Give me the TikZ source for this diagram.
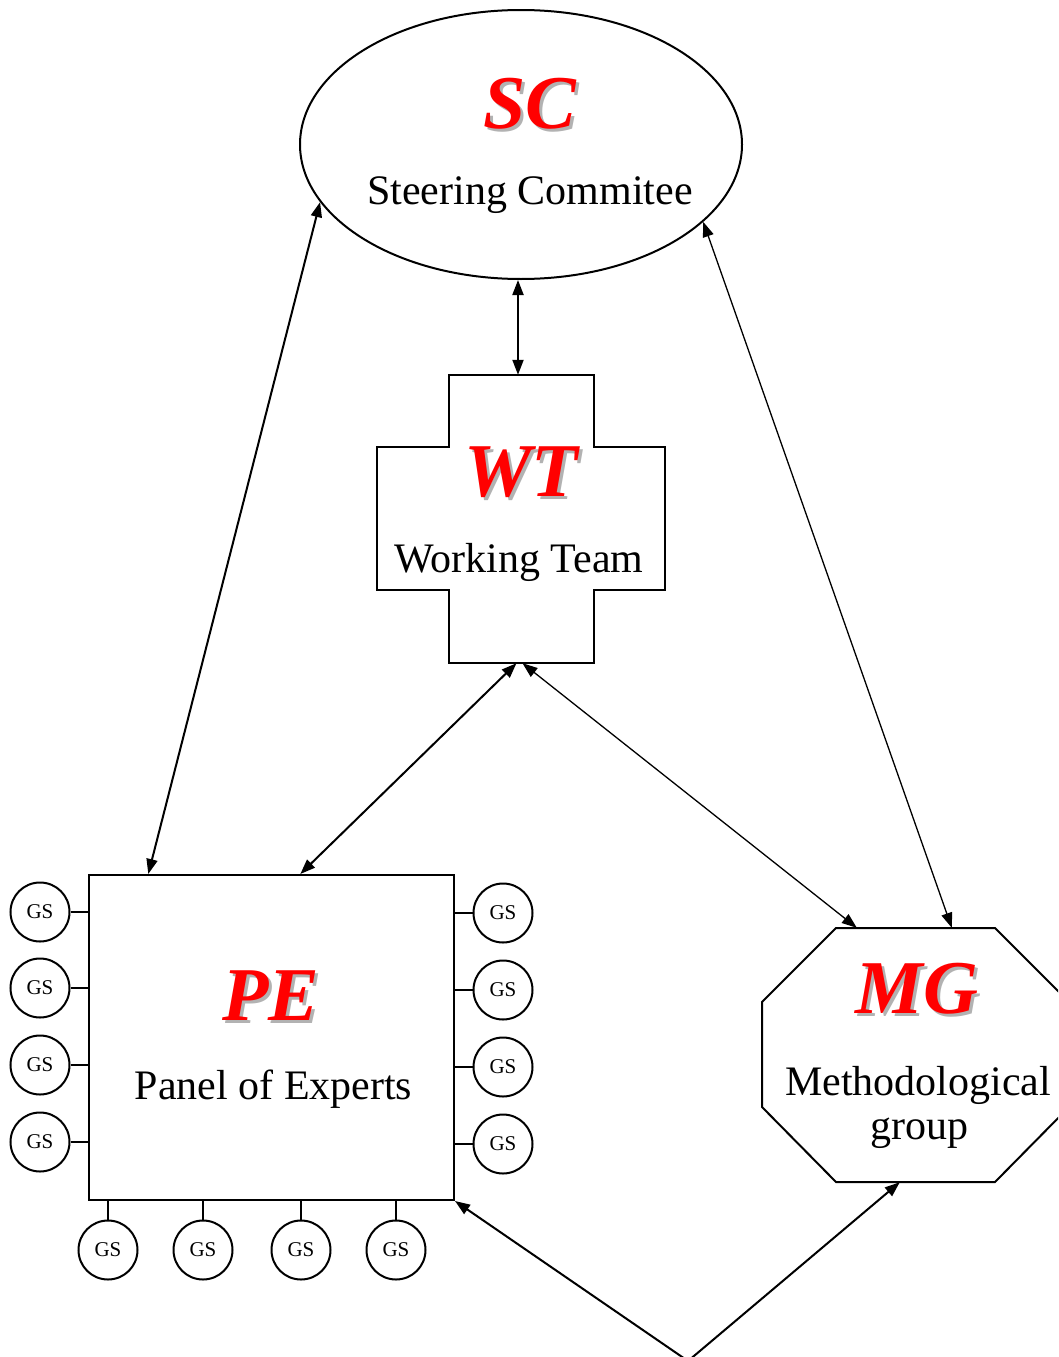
\documentclass[tikz,border=0pt]{standalone}
\usepackage{fontspec}
\setmainfont{Liberation Serif}
\usetikzlibrary{shapes.geometric,arrows.meta,calc}
\newcommand\shadowed[1]{\makebox[0pt][l]{\hspace*{3pt}\raisebox{-3pt}{\textcolor{black!30}{#1}}}\textcolor{red}{#1}}
\begin{document}
\begin{tikzpicture}[x=1pt,y=-1pt,
  bord/.style={draw,line width=2pt},
  tip/.tip={Triangle[length=15pt,width=11pt]},
  conn/.style={line width=2pt,tip-tip},
  thinconn/.style={line width=1.3pt,tip-tip},
  oneway/.style={line width=2pt,-tip},
  acr/.style={font=\fontsize{76}{80}\selectfont\bfseries\itshape,anchor=base,inner sep=0pt},
  lbl/.style={font=\fontsize{42}{48}\selectfont,anchor=base,inner sep=0pt},
  gs/.style={circle,draw,line width=2pt,minimum size=59pt,inner sep=0pt,font=\fontsize{21}{24}\selectfont},
]
\clip (0,0) rectangle (1058,1357);
\fill[white] (0,0) rectangle (1058,1357);

% Steering Committee
\node[ellipse,bord,minimum width=442pt,minimum height=269pt,inner sep=0pt] (sc) at (521,144.5) {};
\node[acr] (scacr) at (530,128) {\shadowed{SC}};
\node[lbl] (scname) at (530,204) {Steering Commitee};

% Working Team (cross)
\node[minimum width=145pt,minimum height=288pt,inner sep=0pt] (wt) at (521.5,519) {};
\draw[bord] (449,375) -- (594,375) -- (594,447) -- (665,447) -- (665,590) -- (594,590)
  -- (594,663) -- (449,663) -- (449,590) -- (377,590) -- (377,447) -- (449,447) -- cycle;
\node[acr] (wtacr) at (521,496) {\shadowed{WT}};
\node[lbl] (wtname) at (519,572) {Working Team};

% Panel of Experts
\node[bord,minimum width=365pt,minimum height=325pt,inner sep=0pt] (pe) at (271.5,1037.5) {};
\node[acr] (peacr) at (271,1020) {\shadowed{PE}};
\node[lbl] (pename) at (273.5,1099) {Panel of Experts};

% Methodological group (octagon)
\node[minimum width=307pt,minimum height=254pt,inner sep=0pt] (mg) at (915.5,1055) {};
\draw[bord] (836,928) -- (995,928) -- (1069,1002) -- (1069,1107) -- (995,1182)
  -- (836,1182) -- (762,1107) -- (762,1002) -- cycle;
\node[acr] (mgacr) at (917,1013) {\shadowed{MG}};
\node[lbl] (mgname1) at (918,1095) {Methodological};
\node[lbl] (mgname2) at (919,1139) {group};

% GS circles, left
\node[gs] (gl1) at (40,912) {GS};
\node[gs] (gl2) at (40,988) {GS};
\node[gs] (gl3) at (40,1065) {GS};
\node[gs] (gl4) at (40,1142) {GS};
% right
\node[gs] (gr1) at (503,913) {GS};
\node[gs] (gr2) at (503,990) {GS};
\node[gs] (gr3) at (503,1067) {GS};
\node[gs] (gr4) at (503,1144) {GS};
% bottom
\node[gs] (gb1) at (108,1250) {GS};
\node[gs] (gb2) at (203,1250) {GS};
\node[gs] (gb3) at (301,1250) {GS};
\node[gs] (gb4) at (396,1250) {GS};

\foreach \n in {gl1,gl2,gl3,gl4}{\draw[line width=2pt] (\n.east) -- (pe.west |- \n.east);}
\foreach \n in {gr1,gr2,gr3,gr4}{\draw[line width=2pt] (\n.west) -- (pe.east |- \n.west);}
\foreach \n in {gb1,gb2,gb3,gb4}{\draw[line width=2pt] (\n.north) -- (\n.north |- pe.south);}

% connectors
\draw[conn] ($(sc.south)+(-3,0)$) -- ($(wt.north)+(-3.5,0)$);
\draw[conn] (sc.196.3) -- (pe.127);
\draw[thinconn] (sc.337.2) -- ($(mg.north west)+(190,0)$);
\draw[conn] ($(wt.south)+(-5,0)$) -- (pe.80);
\draw[thinconn] ($(wt.south)+(1,0)$) -- ($(mg.north west)+(95,0)$);
\coordinate (meet) at (688,1361);
\draw[oneway] (meet) -- (pe.south east);
\draw[oneway] (meet) -- ($(mg.south west)+(138,0)$);
\end{tikzpicture}
\end{document}
